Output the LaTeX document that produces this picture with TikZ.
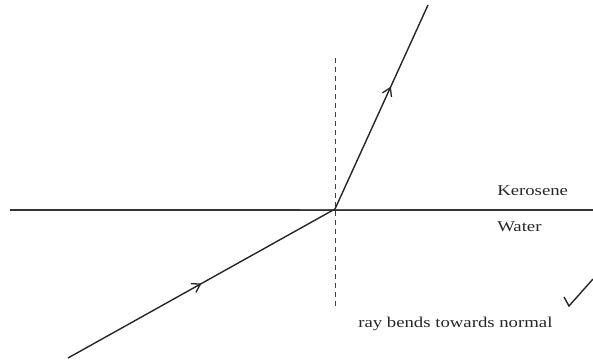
\documentclass[tikz,border=0pt]{standalone}
\usepackage{fontspec}
\setmainfont{Liberation Serif}
\usetikzlibrary{arrows.meta,decorations.markings}
\tikzset{
  ray/.style={line width=1.4pt, draw=black!85,
    postaction={decorate},
    decoration={markings, mark=at position #1 with {\arrow{Straight Barb[length=8pt,width=10pt,line width=1.3pt]}}}},
  boundary/.style={line width=1.3pt, draw=black!80},
  normalline/.style={line width=1pt, draw=black!75, dash pattern=on 5pt off 4pt},
  lbl/.style={font=\fontsize{15}{16}\selectfont, inner sep=0pt, text=black!85, xscale=1.25}
}
\begin{document}
\begin{tikzpicture}[x=1pt,y=-1pt]
\useasboundingbox (0,0) rectangle (593,363);
\coordinate (L) at (10,210);
\coordinate (R) at (593,210);
\coordinate (O) at (335,209);
\coordinate (A) at (68,358);
\coordinate (B) at (428,5);
\coordinate (N1) at (335,58);
\coordinate (N2) at (335,308);
\coordinate (P1) at (300,209.5);
\coordinate (P2) at (400,209.5);
\coordinate (C1) at (564,297);
\coordinate (C2) at (569,306);
\coordinate (C3) at (593,279);
\draw[boundary] (L) -- (R);
\draw[line width=1.3pt, draw=violet!70, opacity=0.5] (P1) -- (P2);
\draw[normalline] (N1) -- (N2);
\draw[ray=0.5] (A) -- (O);
\draw[ray=0.6] (O) -- (B);
\node[lbl, anchor=base west] (ker) at (497,195) {Kerosene};
\node[lbl, anchor=base west] (wat) at (497,231) {Water};
\node[lbl, anchor=base west] (txt) at (358,327) {ray bends towards normal};
\draw[line width=1.4pt, draw=black!85] (C1) -- (C2) -- (C3);
\end{tikzpicture}
\end{document}
